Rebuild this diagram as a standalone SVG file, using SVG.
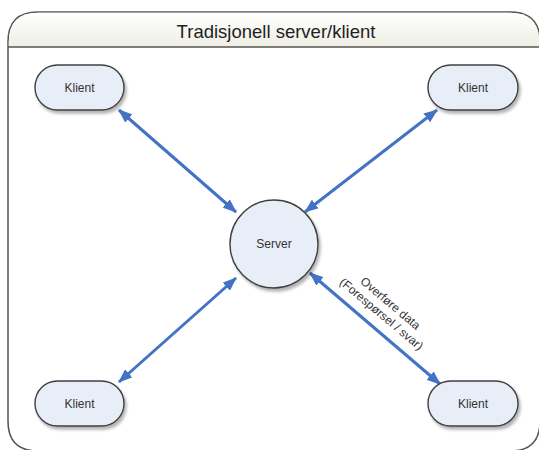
<svg xmlns="http://www.w3.org/2000/svg" width="539" height="450" viewBox="0 0 539 450">
  <defs>
    <linearGradient id="titleFill" x1="0" y1="0" x2="0" y2="1">
      <stop offset="0" stop-color="#ffffff"/>
      <stop offset="1" stop-color="#eeeee4"/>
    </linearGradient>
    <filter id="shadow" x="-20%" y="-20%" width="150%" height="150%">
      <feGaussianBlur in="SourceAlpha" stdDeviation="1.5"/>
      <feOffset dx="2" dy="2.5" result="off"/>
      <feComponentTransfer><feFuncA type="linear" slope="0.3"/></feComponentTransfer>
      <feMerge><feMergeNode/><feMergeNode in="SourceGraphic"/></feMerge>
    </filter>
    <marker id="head" viewBox="0 0 14 11" refX="13" refY="5.5" markerWidth="14" markerHeight="11" markerUnits="userSpaceOnUse" orient="auto-start-reverse">
      <path d="M0,0 L14,5.5 L0,11 Z" fill="#4472c4"/>
    </marker>
  </defs>
  <style>
    .frame { fill: #ffffff; stroke: #555555; stroke-width: 1.5; }
    .node { fill: #e8eef8; stroke: #404040; stroke-width: 1.4; filter: url(#shadow); }
    .lbl { font-family: "Liberation Sans", Arial, sans-serif; font-size: 12px; fill: #333333; text-anchor: middle; }
    .title { font-family: "Liberation Sans", Arial, sans-serif; font-size: 18.5px; fill: #222222; text-anchor: middle; }
    .link { stroke: #4472c4; stroke-width: 3; fill: none; marker-start: url(#head); marker-end: url(#head); }
    .note { font-family: "Liberation Sans", Arial, sans-serif; font-size: 12px; fill: #333333; text-anchor: middle; }
  </style>

  <!-- container with title band -->
  <g id="container">
    <path class="frame" d="M8,421 L8,42 Q8,12 38,12 L510,12 Q540,12 540,42 L540,421 Q540,451 510,451 L38,451 Q8,451 8,421 Z"/>
    <path d="M8.8,47 L8.8,42 Q8.8,12.8 38,12.8 L510,12.8 Q539.2,12.8 539.2,42 L539.2,47 Z" fill="url(#titleFill)"/>
    <line x1="8" y1="47" x2="540" y2="47" stroke="#555555" stroke-width="1.5"/>
    <text class="title" x="276" y="38">Tradisjonell server/klient</text>
  </g>

  <!-- connectors -->
  <g id="connectors">
    <line class="link" x1="119" y1="110" x2="236" y2="212"/>
    <line class="link" x1="437" y1="110" x2="305" y2="212"/>
    <line class="link" x1="236" y1="278" x2="119" y2="382"/>
    <line class="link" x1="310" y1="273" x2="440" y2="384"/>
    <g transform="translate(384,311) rotate(40)">
      <text class="note" x="0" y="-6">Overføre data</text>
      <text class="note" x="0" y="8">(Forespørsel / svar)</text>
    </g>
  </g>

  <!-- nodes -->
  <g id="server">
    <circle class="node" cx="274" cy="244" r="44"/>
    <text class="lbl" x="274" y="248">Server</text>
  </g>
  <g id="klient-tl">
    <rect class="node" x="35" y="65" width="89" height="45" rx="22.5"/>
    <text class="lbl" x="79.5" y="91.5">Klient</text>
  </g>
  <g id="klient-tr">
    <rect class="node" x="428" y="65" width="90" height="45" rx="22.5"/>
    <text class="lbl" x="473" y="91.5">Klient</text>
  </g>
  <g id="klient-bl">
    <rect class="node" x="35" y="381" width="89" height="45" rx="22.5"/>
    <text class="lbl" x="79.5" y="407.5">Klient</text>
  </g>
  <g id="klient-br">
    <rect class="node" x="428" y="381" width="90" height="45" rx="22.5"/>
    <text class="lbl" x="473" y="407.5">Klient</text>
  </g>
</svg>
